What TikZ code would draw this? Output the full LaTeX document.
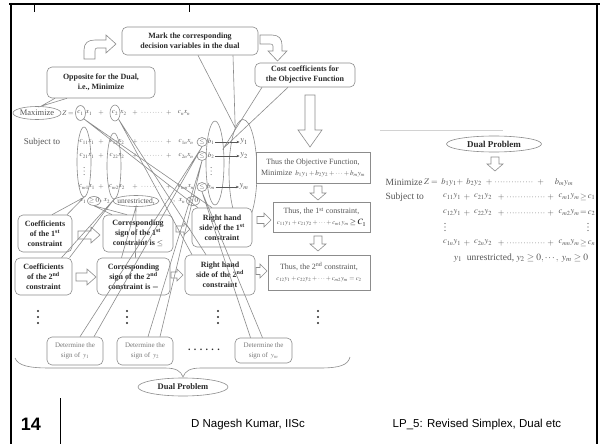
\documentclass[tikz,border=0pt]{standalone}
\usepackage{mathptmx}
\usepackage{fontspec}
\setmainfont{Liberation Serif}
\newfontfamily\sansf{Liberation Sans}
\usetikzlibrary{shapes.geometric,arrows.meta}
\definecolor{lgray}{HTML}{8C8C8C}
\definecolor{tgray}{HTML}{555555}
\definecolor{dtext}{HTML}{2A2A2A}
\definecolor{ltext}{HTML}{7A7A7A}
% x, ytop, ybottom, stem half width, head half width, head length
\newcommand{\dnarr}[6]{\draw[blockarr] ({#1-#4},#2) -- ({#1+#4},#2) -- ({#1+#4},{#3-#6}) -- ({#1+#5},{#3-#6}) -- (#1,#3) -- ({#1-#5},{#3-#6}) -- ({#1-#4},{#3-#6}) -- cycle;}
% xleft, xright, y, stem half width, head half width, head length
\newcommand{\rtarr}[6]{\draw[blockarr] (#1,{#3-#4}) -- ({#2-#6},{#3-#4}) -- ({#2-#6},{#3-#5}) -- (#2,#3) -- ({#2-#6},{#3+#5}) -- ({#2-#6},{#3+#4}) -- (#1,{#3+#4}) -- cycle;}
% plus, row of centred dots, plus
\newcommand{\plusdots}[1]{$+$\,\leaders\hbox to 2.8pt{\hss$\cdot$\hss}\hskip #1\relax\,$+$}
% three stacked dots drawn as shapes: x, y, spacing, radius, colour
\newcommand{\stackdots}[5]{\fill[#5] (#1,{#2-#3}) circle (#4) (#1,#2) circle (#4) (#1,{#2+#3}) circle (#4);}
\begin{document}
\begin{tikzpicture}[x=1pt,y=-1pt,
  cbox/.style={draw=lgray, fill=white, rounded corners=5pt, line width=0.6pt, inner sep=1pt, align=center, text=dtext, font=\fontsize{8}{10}\selectfont\bfseries},
  rbox/.style={draw=lgray, fill=white, line width=0.6pt, inner sep=1pt, align=center, text=tgray, font=\fontsize{8}{11}\selectfont},
  dbox/.style={draw=lgray, fill=white, rounded corners=5pt, line width=0.6pt, inner sep=1pt, align=center, text=ltext, font=\fontsize{7}{10}\selectfont},
  ell/.style={ellipse, draw=lgray, line width=0.6pt, inner sep=0pt},
  frm/.style={inner sep=0.5pt, text=tgray, font=\fontsize{7}{8}\selectfont},
  yfrm/.style={inner sep=0.5pt, text=tgray, font=\fontsize{8.5}{9}\selectfont},
  dfrm/.style={inner sep=0.5pt, text=tgray, font=\fontsize{8.5}{10}\selectfont},
  tail/.style={draw=lgray, line width=0.6pt},
  conn/.style={draw=tgray, line width=0.5pt, -{Stealth[length=3pt,width=2.5pt]}},
  blockarr/.style={draw=lgray, fill=white, line width=0.6pt, line join=miter},
]
\useasboundingbox (0,0) rectangle (600,444);
\fill[white] (0,0) rectangle (600,444);

% slide frame
\draw[line width=2.2pt] (9,4) -- (600,4);
\draw[line width=1.6pt] (11,3) -- (11,444);
\draw[line width=1.2pt] (597,4) -- (597,444);
\draw[line width=0.6pt] (34,4) -- (34,12);
\draw[line width=0.6pt] (189,4) -- (189,12);

% ---------- primal problem ----------
\node[ell, minimum width=48pt, minimum height=13pt] (maxell) at (37,113) {};
\node[frm, font=\fontsize{8.5}{10}\selectfont] (maxtxt) at (37,113) {Maximize};
\node[frm] (zeq) at (68,113) {$Z=$};
\node[ell, minimum width=10pt, minimum height=15pt] (cone) at (80.5,113) {};
\node[frm] (conet) at (80.5,113) {$c_1$};
\node[frm] (xone) at (89,113) {$x_1$};
\node[frm] (pA) at (101,113) {$+$};
\node[ell, minimum width=10pt, minimum height=16pt] (ctwo) at (115,113) {};
\node[frm] (ctwot) at (115,113) {$c_2$};
\node[frm] (xtwo) at (123.5,113) {$x_2$};
\node[frm] (dA) at (152,113) {\plusdots{26pt}};
\node[frm] (cnxn) at (184,113) {$c_nx_n$};

\node[frm, font=\fontsize{9}{10}\selectfont] (subj) at (42,142) {Subject to};
% row 1
\node[frm] (a11) at (87,142) {$c_{11}x_1$};
\node[frm] (pB) at (101,142) {$+$};
\node[frm] (a12) at (117,142) {$c_{12}x_2$};
\node[frm] (dB) at (152,142) {\plusdots{26pt}};
\node[frm] (a1n) at (186,142) {$c_{1n}x_n$};
\node[ell, minimum width=10pt, minimum height=9pt] (le1) at (202,142) {};
\node[frm] (le1t) at (202,142) {$\le$};
\node[frm] (b1) at (211,142) {$b_1$};
\node[yfrm] (y1) at (244,142) {$y_1$};
% row 2
\node[frm] (a21) at (87,156) {$c_{21}x_1$};
\node[frm] (pC) at (101,156) {$+$};
\node[frm] (a22) at (117,156) {$c_{22}x_2$};
\node[frm] (dC) at (152,156) {\plusdots{26pt}};
\node[frm] (a2n) at (186,156) {$c_{2n}x_n$};
\node[ell, minimum width=10pt, minimum height=9pt] (le2) at (202,156) {};
\node[frm] (le2t) at (202,156) {$\le$};
\node[frm] (b2) at (211,156) {$b_2$};
\node[yfrm] (y2) at (244,156) {$y_2$};
% vertical dots
\stackdots{84}{171}{3.5}{0.5pt}{tgray}
\stackdots{211}{171}{3.5}{0.5pt}{tgray}
% row m
\node[frm] (am1) at (87,187) {$c_{m1}x_1$};
\node[frm] (pD) at (101,187) {$+$};
\node[frm] (am2) at (117,187) {$c_{m2}x_2$};
\node[frm] (dD) at (152,187) {\plusdots{26pt}};
\node[frm] (amn) at (186,187) {$c_{mn}x_n$};
\node[ell, minimum width=10pt, minimum height=9pt] (lem) at (202,187) {};
\node[frm] (lemt) at (202,187) {$\le$};
\node[frm] (bm) at (211,187) {$b_m$};
\node[yfrm] (ym) at (244,187) {$y_m$};
% sign row
\node[frm] (xb1) at (83,201) {$x_1$};
\node[ell, minimum width=13pt, minimum height=9pt] (ge1) at (94,201) {};
\node[frm] (ge1t) at (94,201) {$\ge0$};
\node[frm] (cm1) at (101,202) {,};
\node[frm] (xb2) at (107,201) {$x_2$};
\node[ell, minimum width=46pt, minimum height=11pt] (unr) at (136,201) {};
\node[frm, font=\fontsize{7.5}{8}\selectfont] (unrt) at (136,201) {unrestricted,};
\node[frm] (dE) at (170,201) {$\cdots,$};
\node[frm] (xbn) at (182,201) {$x_n$};
\node[ell, minimum width=13pt, minimum height=9pt] (gen) at (193,201) {};
\node[frm] (gent) at (193,201) {$\ge0$};

% grouping ellipses
\node[ell, minimum width=14pt, minimum height=70pt] (col1) at (84,162) {};
\node[ell, minimum width=14pt, minimum height=66pt] (col2) at (114,166) {};
\node[ell, minimum width=18pt, minimum height=84pt] (bell) at (215,163) {};
\node[ell, minimum width=28pt, minimum height=105pt] (yell) at (243,172) {};

\draw[conn] (b1) -- (y1);
\draw[conn] (b2) -- (y2);
\draw[conn] (bm) -- (ym);

% ---------- top callouts ----------
\node[cbox, minimum width=136pt, minimum height=28pt] (mark) at (190,41) {Mark the corresponding\\decision variables in the dual};
\node[cbox, minimum width=108pt, minimum height=31pt] (opp) at (101,82.5) {Opposite for the Dual,\\i.e., Minimize};
\node[cbox, minimum width=100pt, minimum height=24pt] (cost) at (305,75) {Cost coefficients for\\the Objective Function};

% curved block arrows
\draw[blockarr] (84,59) -- (84,50) .. controls (84,43) and (88,40) .. (95,40) -- (106,40) -- (106,35) -- (116,44) -- (106,53) -- (106,48) -- (97,48) .. controls (95.5,48) and (95,49) .. (95,51) -- (95,59) -- cycle;
\draw[blockarr] (260,35) -- (272,35) .. controls (279,35) and (282,39) .. (282,45) -- (282,51) -- (287,51) -- (277.5,61) -- (268,51) -- (273,51) -- (273,46) .. controls (273,44.5) and (272,44) .. (270,44) -- (260,44) -- cycle;
\dnarr{310}{95}{147}{5}{12}{17}

% ---------- right column boxes ----------
\node[rbox, minimum width=114pt, minimum height=31pt] (obj) at (313,167.5) {Thus the Objective Function,\\Minimize\, {\fontsize{7}{8}\selectfont$b_1y_1+b_2y_2+\cdots+b_my_m$}};
\dnarr{318}{186}{200}{4}{8}{7}
\node[rbox, minimum width=97pt, minimum height=30pt] (T1) at (321.5,217) {Thus, the 1\textsuperscript{st} constraint,\\{\fontsize{6.5}{8}\selectfont$c_{11}y_1+c_{21}y_2+\cdots+c_{m1}y_m$}\,\textcolor{black}{$\ge C_1$}};
\dnarr{318}{236}{251}{4}{8}{7}
\node[rbox, minimum width=102pt, minimum height=35pt] (T2) at (319,272.5) {Thus, the 2\textsuperscript{nd} constraint,\\{\fontsize{6.5}{8}\selectfont$c_{12}y_1+c_{22}y_2+\cdots+c_{m2}y_m=c_2$}};

% ---------- lower callouts ----------
\node[cbox, minimum width=54pt, minimum height=37pt] (C1) at (45,233.5) {Coefficients\\of the 1\textsuperscript{st}\\constraint};
\node[cbox, minimum width=70pt, minimum height=37pt] (S1) at (138,233.5) {Corresponding\\sign of the 1\textsuperscript{st}\\constraint is {\mdseries$\le$}};
\node[cbox, minimum width=60pt, minimum height=39pt] (R1) at (222,227.5) {Right hand\\side of the 1\textsuperscript{st}\\constraint};
\node[cbox, minimum width=57pt, minimum height=37pt] (C2) at (43.5,276.5) {Coefficients\\of the 2\textsuperscript{nd}\\constraint};
\node[cbox, minimum width=73pt, minimum height=37pt] (S2) at (133.5,276.5) {Corresponding\\sign of the 2\textsuperscript{nd}\\constraint is {\mdseries$=$}};
\node[cbox, minimum width=70pt, minimum height=40pt] (R2) at (220,275) {Right hand\\side of the 2\textsuperscript{nd}\\constraint};

\rtarr{78}{100}{235}{4}{8}{9}
\rtarr{176}{190}{229}{3}{6}{6}
\rtarr{257}{271}{220}{3.5}{7}{7}
\rtarr{76}{96}{277}{4}{8}{9}
\rtarr{171}{183}{275}{3}{6}{6}
\rtarr{256}{267}{271}{3.5}{7}{7}

\stackdots{38}{317}{6}{1.1pt}{dtext}
\stackdots{127}{317}{6}{1.1pt}{dtext}
\stackdots{218}{317}{6}{1.1pt}{dtext}
\stackdots{318}{317}{6}{1.1pt}{dtext}

\node[dbox, minimum width=56pt, minimum height=28pt] (D1) at (75,351) {Determine the\\sign of\, $y_1$};
\node[dbox, minimum width=56pt, minimum height=28pt] (D2) at (145,351) {Determine the\\sign of\, $y_2$};
\node[inner sep=0pt, text=dtext, font=\fontsize{10}{10}\selectfont\bfseries] (hd) at (204,350) {. . . . . .};
\node[dbox, minimum width=57pt, minimum height=25pt] (Dm) at (263.5,350.5) {Determine the\\sign of\, $y_m$};

% brace and bottom label
\draw[tail] (15,358) .. controls (18,366) and (30,368) .. (50,368) -- (165,368) .. controls (176,368) and (181,371) .. (183,377) .. controls (185,371) and (190,368) .. (201,368) -- (320,368) .. controls (340,368) and (348,365) .. (350,357);
\node[ell, minimum width=90pt, minimum height=18pt] (dualb) at (183,387) {};
\node[inner sep=0pt, text=dtext, font=\fontsize{8.5}{9}\selectfont\bfseries] (dualbt) at (183,387) {Dual Problem};

% ---------- callout tails ----------
\draw[tail] ([xshift=-46pt]opp.south) -- (maxell.60) -- ([xshift=-34pt]opp.south);
\draw[tail] ([xshift=8pt]mark.south) -- (yell.100) -- ([xshift=43pt]mark.south);
\draw[tail] ([xshift=-43pt]cost.south) -- (bell.60) -- ([xshift=-17pt]cost.south);
\draw[tail] ([xshift=7pt]C1.north) -- (col1.south) -- ([xshift=22pt]C1.north);
\draw[tail] ([xshift=18pt]C2.north) -- (col2.south) -- ([xshift=26pt]C2.north);
\draw[tail] ([xshift=-26pt]S1.north) -- (ge1.south) -- ([xshift=-11pt]S1.north);
\draw[tail] ([xshift=-12pt]S2.north) -- (unr.south) -- ([xshift=2pt]S2.north);
\draw[tail] ([xshift=-24pt]R1.north) -- (cone.-60) -- ([xshift=-10pt]R1.north);
\draw[tail] ([xshift=-28pt]R2.north) -- (ctwo.-60) -- ([xshift=-14pt]R2.north);
\draw[tail] ([xshift=5pt]D1.north) -- (le1.south) -- ([xshift=19pt]D1.north);
\draw[tail] ([xshift=3pt]D2.north) -- (le2.south) -- ([xshift=15pt]D2.north);
\draw[tail] ([xshift=-13pt]Dm.north) -- (lem.south) -- ([xshift=-1pt]Dm.north);

% ---------- dual problem panel ----------
\draw[draw=gray!35, line width=0.5pt] (380,130) -- (503,130);
\node[ell, minimum width=95pt, minimum height=16pt] (dualt) at (494,144) {};
\node[inner sep=0pt, text=dtext, font=\fontsize{9}{10}\selectfont\bfseries] (dualtt) at (494,144) {Dual Problem};
\dnarr{495}{157}{171}{4}{8}{7}

\node[dfrm, anchor=west, font=\fontsize{9.5}{10}\selectfont] (dmin) at (385,182) {Minimize};
\node[dfrm] (dz) at (431,182) {$Z=$};
\node[dfrm] (db1) at (449,182) {$b_1y_1$};
\node[dfrm] (dp1) at (460,182) {$+$};
\node[dfrm] (db2) at (474,182) {$b_2y_2$};
\node[dfrm] (dd1) at (515,182) {\plusdots{42pt}};
\node[dfrm] (dbm) at (564,182) {$b_my_m$};

\node[dfrm, anchor=west, font=\fontsize{9.5}{10}\selectfont] (dsub) at (385,197) {Subject to};
\node[dfrm] (e11) at (452,197) {$c_{11}y_1$};
\node[dfrm] (ep1) at (467,197) {$+$};
\node[dfrm] (e21) at (483,197) {$c_{21}y_2$};
\node[dfrm] (ed1) at (526,197) {\plusdots{40pt}};
\node[dfrm] (em1) at (569,197) {$c_{m1}y_m$};
\node[dfrm] (es1) at (583.5,197) {$\ge$};
\node[dfrm] (er1) at (591.5,197) {$c_1$};

\node[dfrm] (e12) at (452,213) {$c_{12}y_1$};
\node[dfrm] (ep2) at (467,213) {$+$};
\node[dfrm] (e22) at (483,213) {$c_{22}y_2$};
\node[dfrm] (ed2) at (526,213) {\plusdots{40pt}};
\node[dfrm] (em2) at (569,213) {$c_{m2}y_m$};
\node[dfrm] (es2) at (583.5,213) {$=$};
\node[dfrm] (er2) at (591.5,213) {$c_2$};

\stackdots{445}{227}{3.5}{0.55pt}{tgray}
\stackdots{588}{227}{3.5}{0.55pt}{tgray}

\node[dfrm] (e1n) at (452,243) {$c_{1n}y_1$};
\node[dfrm] (ep3) at (467,243) {$+$};
\node[dfrm] (e2n) at (483,243) {$c_{2n}y_2$};
\node[dfrm] (ed3) at (526,243) {\plusdots{40pt}};
\node[dfrm] (emn) at (569,243) {$c_{mn}y_m$};
\node[dfrm] (es3) at (583.5,243) {$\ge$};
\node[dfrm] (er3) at (591.5,243) {$c_n$};

\node[dfrm, font=\fontsize{9.5}{10}\selectfont] (esign) at (521,258) {$y_1$\ \ unrestricted, $y_2\ge0,\cdots,\ y_m\ge0$};

% ---------- footer ----------
\draw[line width=0.8pt] (60,398) -- (60,444);
\node[inner sep=0pt, font=\sansf\bfseries\fontsize{18}{20}\selectfont] (pnum) at (31,424) {14};
\node[inner sep=0pt, font=\sansf\fontsize{11.5}{13}\selectfont] (auth) at (248,425) {D Nagesh Kumar, IISc};
\node[inner sep=0pt, font=\sansf\fontsize{11.5}{13}\selectfont] (ttl) at (477,425) {LP\_5: Revised Simplex, Dual etc};
\end{tikzpicture}
\end{document}
